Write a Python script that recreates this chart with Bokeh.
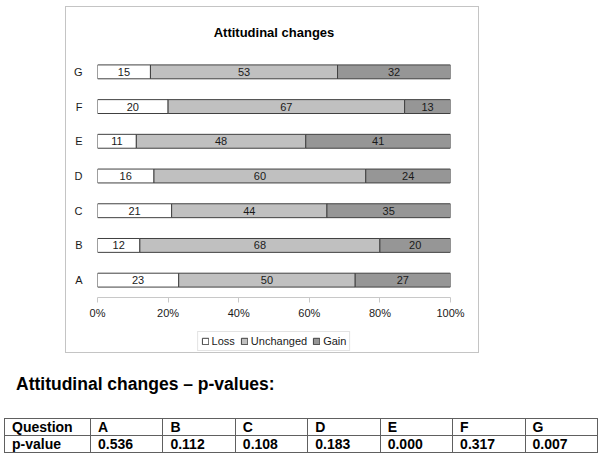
from bokeh.plotting import figure
from bokeh.models import (ColumnDataSource, Range1d, FactorRange, Legend, LegendItem,
                          FixedTicker, CustomJSTickFormatter, Div)
from bokeh.layouts import column
from bokeh.embed import file_html
from bokeh.resources import INLINE
from bokeh.core.properties import value

# ---------------- data ----------------
questions = ["A", "B", "C", "D", "E", "F", "G"]
loss = [23, 12, 21, 16, 11, 20, 15]
unchanged = [50, 68, 44, 60, 48, 67, 53]
gain = [27, 20, 35, 24, 41, 13, 32]
series_names = ["Loss", "Unchanged", "Gain"]
x_ticks = [0, 20, 40, 60, 80, 100]
table_header = ["Question"] + questions
table_row = ["p-value", "0.536", "0.112", "0.108", "0.183", "0.000", "0.317", "0.007"]
chart_title = "Attitudinal changes"
table_title = "Attitudinal changes \u2013 p-values:"

# ---------------- styles ----------------
FONT = "Liberation Sans"
colors = ["#ffffff", "#c0c0c0", "#969696"]
edge = "#404040"
box = "1px solid #c4c4c4"

# ---------------- chart ----------------
p = figure(width=414, height=320, output_backend="svg", toolbar_location=None,
           title=chart_title,
           x_range=Range1d(0, 100), y_range=FactorRange(*questions, range_padding=0),
           min_border_left=31, min_border_right=30, min_border_top=46, min_border_bottom=30,
           margin=(6, 0, 0, 65),
           styles={"border-top": box, "border-left": box, "border-right": box})
p.outline_line_color = None
p.xgrid.visible = False
p.ygrid.visible = False
p.title.align = "center"
p.title.text_font = FONT
p.title.text_font_size = "13px"
p.title.text_font_style = "bold"
p.title.text_color = "#000000"
p.title.padding = 10

src = ColumnDataSource(dict(q=questions, Loss=loss, Unchanged=unchanged, Gain=gain))
bars = p.hbar_stack(series_names, y="q", height=0.4, fill_color=colors,
                    line_color=edge, line_width=1, source=src)

lab_x, lab_y, lab_t = [], [], []
for i, q in enumerate(questions):
    l, u, g = loss[i], unchanged[i], gain[i]
    lab_x += [l / 2, l + u / 2, l + u + g / 2]
    lab_y += [q, q, q]
    lab_t += [str(l), str(u), str(g)]
p.text(x="x", y="y", text="t", source=ColumnDataSource(dict(x=lab_x, y=lab_y, t=lab_t)),
       text_align="center", text_baseline="middle", text_font=value(FONT),
       text_font_size="11px", text_color="#1a1a1a")

xa = p.xaxis[0]
xa.ticker = FixedTicker(ticks=x_ticks)
xa.formatter = CustomJSTickFormatter(code="return tick + '%'")
xa.axis_line_color = "#c8c8c8"
xa.major_tick_line_color = "#c8c8c8"
xa.major_tick_in = 0
xa.major_tick_out = 5
xa.minor_tick_line_color = None
xa.major_label_text_font = FONT
xa.major_label_text_font_size = "11px"
xa.major_label_text_color = "#1a1a1a"
xa.major_label_standoff = 4

ya = p.yaxis[0]
ya.axis_line_color = None
ya.major_tick_line_color = None
ya.minor_tick_line_color = None
ya.major_label_text_font = FONT
ya.major_label_text_font_size = "11px"
ya.major_label_text_color = "#1a1a1a"
ya.major_label_standoff = 9

# ---------------- legend strip (bottom of the chart box) ----------------
# same stacked bars, shrunk under the opaque legend box; only their keys are seen
lf = figure(width=414, height=27, output_backend="svg", toolbar_location=None, title=None,
            x_range=Range1d(-1000, 1000), y_range=FactorRange(*questions, range_padding=2),
            x_axis_location=None, y_axis_location=None,
            min_border_left=31, min_border_right=30, min_border_top=3, min_border_bottom=0,
            margin=(0, 0, 0, 65),
            styles={"border-bottom": box, "border-left": box, "border-right": box})
lf.outline_line_color = None
lf.grid.visible = False
keys = lf.hbar_stack(series_names, y="q", height=0.4, fill_color=colors,
                     line_color=edge, line_width=1, source=src)
legend = Legend(items=[LegendItem(label=n, renderers=[r]) for n, r in zip(series_names, keys)],
                orientation="horizontal", location="center",
                glyph_width=8, glyph_height=8, label_text_font=FONT,
                label_text_font_size="11px", label_text_color="#1a1a1a",
                label_standoff=3, spacing=5, padding=3, margin=0,
                background_fill_color="#ffffff", background_fill_alpha=1.0,
                border_line_color="#c8c8c8")
lf.add_layout(legend)

# ---------------- table (HTML) ----------------
first_w = 86
other_w = (593 - first_w) / len(questions)
cell = ("border:1px solid #606060;padding:0 0 0 7px;height:16px;line-height:16px;"
        "text-align:left;white-space:nowrap;overflow:hidden;")
cols = f'<col style="width:{first_w}px">' + "".join(
    f'<col style="width:{other_w:.2f}px">' for _ in questions)
rows_html = ""
for row in [table_header, table_row]:
    rows_html += "<tr>" + "".join(f'<td style="{cell}">{txt}</td>' for txt in row) + "</tr>"
html = (
    f'<div style="position:relative;width:600px;height:104px;'
    f'font-family:\'{FONT}\',Arial,sans-serif;color:#000;">'
    f'<div style="position:absolute;left:16px;top:21px;font-size:17.5px;font-weight:bold;'
    f'line-height:20px;white-space:nowrap;">{table_title}</div>'
    f'<table style="position:absolute;left:4px;top:65px;width:593px;border-collapse:collapse;'
    f'table-layout:fixed;font-size:14px;font-weight:bold;">'
    f'<colgroup>{cols}</colgroup>{rows_html}</table></div>'
)
div = Div(text=html, width=600, height=104, margin=0)

layout = column(p, lf, div, spacing=0)
open("out.html", "w").write(file_html(layout, INLINE))
